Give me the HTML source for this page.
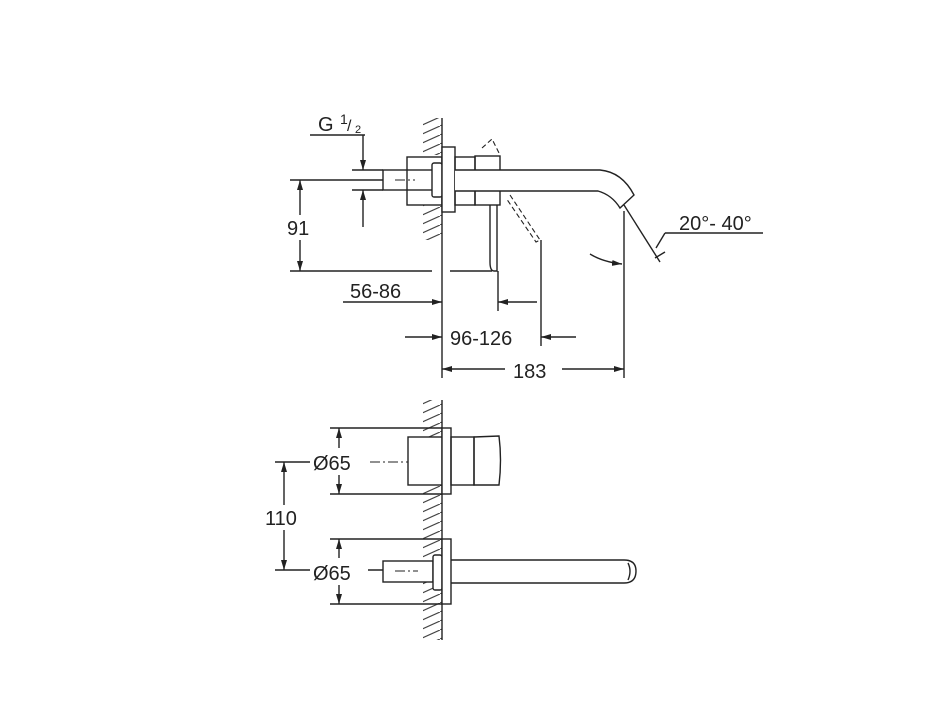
<!DOCTYPE html>
<html><head><meta charset="utf-8"><style>
html,body{margin:0;padding:0;background:#fff}
svg{display:block}
text{font-family:"Liberation Sans",sans-serif;fill:#222}
</style></head><body>
<svg width="927" height="723" viewBox="0 0 927 723" xmlns="http://www.w3.org/2000/svg">
<defs>
<marker id="a" markerWidth="10" markerHeight="8" refX="10" refY="4" orient="auto" markerUnits="userSpaceOnUse"><path d="M0,1 L10,4 L0,7 Z" fill="#222"/></marker>
<pattern id="h" width="20" height="9" patternUnits="userSpaceOnUse"><path d="M0,9 L20,0" stroke="#444" stroke-width="1.2"/></pattern>
</defs>
<g stroke="#222" stroke-width="1.4" fill="none">
<!-- TOP VIEW -->
<rect x="423" y="118" width="19" height="37" fill="url(#h)" stroke="none"/>
<rect x="423" y="205" width="19" height="35" fill="url(#h)" stroke="none"/>
<line x1="442" y1="118" x2="442" y2="240"/>
<!-- G1/2 -->
<line x1="310" y1="135" x2="365" y2="135"/>
<line x1="363" y1="135" x2="363" y2="170" marker-end="url(#a)"/>
<line x1="352" y1="170" x2="383" y2="170"/>
<line x1="352" y1="190" x2="383" y2="190"/>
<line x1="363" y1="227" x2="363" y2="190" marker-end="url(#a)"/>
<line x1="290" y1="180" x2="383" y2="180"/>
<line x1="395" y1="180" x2="415" y2="180" stroke-dasharray="10,3,2,3" stroke-width="1"/>
<!-- 91 -->
<line x1="300" y1="215" x2="300" y2="180" marker-end="url(#a)"/>
<line x1="300" y1="240" x2="300" y2="271" marker-end="url(#a)"/>
<line x1="290" y1="271" x2="432" y2="271"/>
<line x1="450" y1="271" x2="492" y2="271"/>
<!-- body -->
<rect x="383" y="170" width="50" height="20"/>
<rect x="407" y="157" width="35" height="48"/>
<rect x="432" y="163" width="10" height="34" rx="2" fill="#fff"/>
<rect x="442" y="147" width="13" height="65" fill="#fff"/>
<rect x="455" y="157" width="20" height="48"/>
<rect x="475" y="156" width="25" height="49"/>
<path d="M490,205 L490,262 Q490,271 494,271 L497,271 L497,205"/>
<!-- spout -->
<path d="M455,170 L600,170 Q622,172 634,195 L620,208 Q612,195 598,191 L455,191" fill="#fff"/>
<!-- dashed lever -->
<path d="M482,148 L492,139 L500,155 M510,195 L540,240 L536,242 L506,198" stroke-dasharray="5,3" stroke-width="1.1"/>
<!-- vertical ext -->
<line x1="498" y1="271" x2="498" y2="311"/>
<line x1="541" y1="240" x2="541" y2="346"/>
<line x1="624" y1="211" x2="624" y2="378"/>
<line x1="442" y1="240" x2="442" y2="378"/>
<!-- 56-86 -->
<line x1="343" y1="302" x2="442" y2="302" marker-end="url(#a)"/>
<line x1="537" y1="302" x2="498" y2="302" marker-end="url(#a)"/>
<!-- 96-126 -->
<line x1="405" y1="337" x2="442" y2="337" marker-end="url(#a)"/>
<line x1="576" y1="337" x2="541" y2="337" marker-end="url(#a)"/>
<!-- 183 -->
<line x1="505" y1="369" x2="442" y2="369" marker-end="url(#a)"/>
<line x1="562" y1="369" x2="624" y2="369" marker-end="url(#a)"/>
<!-- angle -->
<line x1="624" y1="205" x2="660" y2="262"/>
<line x1="655" y1="258" x2="665" y2="252"/>
<line x1="665" y1="233" x2="763" y2="233"/>
<line x1="665" y1="233" x2="656" y2="248"/>
<path d="M590,254 Q603,262 622,264" marker-end="url(#a)"/>
<!-- BOTTOM VIEW -->
<rect x="423" y="400" width="19" height="240" fill="url(#h)" stroke="none"/>
<line x1="442" y1="400" x2="442" y2="640"/>
<line x1="330" y1="428" x2="442" y2="428"/>
<line x1="330" y1="494" x2="442" y2="494"/>
<line x1="339" y1="448" x2="339" y2="428" marker-end="url(#a)"/>
<line x1="339" y1="475" x2="339" y2="494" marker-end="url(#a)"/>
<line x1="370" y1="462" x2="420" y2="462" stroke-dasharray="10,3,2,3" stroke-width="1"/>
<line x1="275" y1="462" x2="310" y2="462"/>
<line x1="275" y1="570" x2="310" y2="570"/>
<line x1="284" y1="505" x2="284" y2="462" marker-end="url(#a)"/>
<line x1="284" y1="530" x2="284" y2="570" marker-end="url(#a)"/>
<rect x="408" y="437" width="34" height="48" fill="#fff"/>
<rect x="442" y="428" width="9" height="66" fill="#fff"/>
<rect x="451" y="437" width="23" height="48"/>
<path d="M474,437 L499,436 Q502,460 499,485 L474,485 Z"/>
<line x1="330" y1="539" x2="442" y2="539"/>
<line x1="330" y1="604" x2="442" y2="604"/>
<line x1="339" y1="558" x2="339" y2="539" marker-end="url(#a)"/>
<line x1="339" y1="585" x2="339" y2="604" marker-end="url(#a)"/>
<line x1="368" y1="570" x2="400" y2="570"/>
<rect x="383" y="561" width="50" height="21" fill="#fff"/>
<line x1="395" y1="571" x2="418" y2="571" stroke-dasharray="10,3,2,3" stroke-width="1"/>
<rect x="433" y="555" width="9" height="35" rx="2" fill="#fff"/>
<rect x="442" y="539" width="9" height="65" fill="#fff"/>
<path d="M451,560 L624,560 Q636,560 636,571 Q636,583 624,583 L451,583"/>
<path d="M628,563 Q632,571 628,580"/>
</g>
<g font-size="20">
<text x="318" y="131">G</text>
<text x="340" y="124" font-size="14">1</text>
<text x="347" y="131" font-size="16">/</text>
<text x="355" y="133" font-size="11">2</text>
<text x="287" y="235">91</text>
<text x="350" y="298">56-86</text>
<text x="450" y="345">96-126</text>
<text x="513" y="378">183</text>
<text x="679" y="230">20°- 40°</text>
<text x="313" y="470">Ø65</text>
<text x="265" y="525">110</text>
<text x="313" y="580">Ø65</text>
</g>
</svg>
</body></html>
